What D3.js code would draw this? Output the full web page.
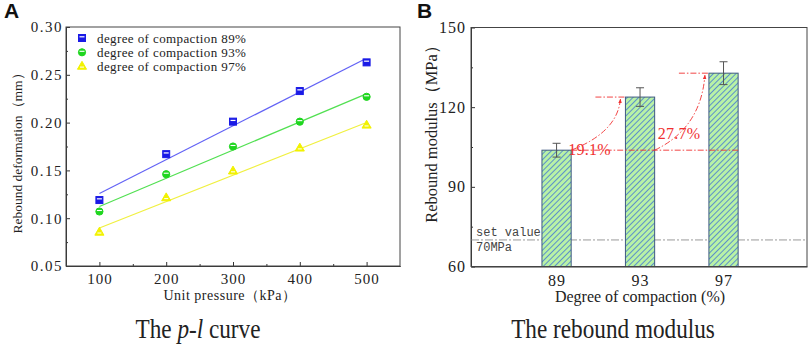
<!DOCTYPE html>
<html lang="en">
<head>
<meta charset="UTF-8">
<title>p-l curve and rebound modulus</title>
<script src="https://cdn.jsdelivr.net/npm/d3@7/dist/d3.min.js"></script>
<style>
    body { margin: 0; background: #fff; }
    svg { display: block; }
    .tick text, .lbl { font-family: 'Liberation Serif', 'Times New Roman', serif; fill: #222; }
    .axis path, .axis line { stroke: #333; }
    .panel { font-family: 'Liberation Sans', Arial, sans-serif; font-weight: bold; font-size: 21px; fill: #111; }
</style>
</head>
<body>
<div id="grafico"></div>
<script>
// --- datos panel A (p-l curve)
var pressures = [100, 200, 300, 400, 500];
var seriesNames = ["degree of compaction 89%", "degree of compaction 93%", "degree of compaction 97%"];
var def89 = [0.119, 0.167, 0.201, 0.233, 0.263];
var def93 = [0.107, 0.146, 0.175, 0.201, 0.227];
var def97 = [0.085, 0.121, 0.149, 0.173, 0.197];
var yTicksA = [0.05, 0.10, 0.15, 0.20, 0.25, 0.30];

// --- datos panel B (rebound modulus)
var compaction = [89, 93, 97];
var modulus = [103.8, 123.8, 132.8];
var modulusErr = [2.6, 3.5, 4.3];
var yTicksB = [60, 90, 120, 150];
var setValue = 70;
var increases = ["19.1%", "27.7%"];

var w = 809, h = 349;
var svg = d3.select("#grafico").append("svg").attr("width", w).attr("height", h);

// pattern rayado para barras
var defs = svg.append("defs");
var pat = defs.append("pattern")
    .attr("id", "rayas")
    .attr("patternUnits", "userSpaceOnUse")
    .attr("width", 4).attr("height", 4)
    .attr("patternTransform", "rotate(45)");
pat.append("rect").attr("width", 4).attr("height", 4).attr("fill", "#b9f2a6");
pat.append("line").attr("x1", 0).attr("y1", 0).attr("x2", 0).attr("y2", 4)
    .attr("stroke", "#3d6fd6").attr("stroke-width", 1.5);

// ================= PANEL A =================
var xA = d3.scaleLinear().domain([50, 550]).range([66, 400]);
var yA = d3.scaleLinear().domain([0.05, 0.30]).range([266, 27]);

var gA = svg.append("g");

// ejes
gA.append("g").attr("class", "axis").attr("transform", "translate(0,266)")
    .call(d3.axisBottom(xA).tickValues(pressures).tickSizeInner(-4).tickSizeOuter(0).tickPadding(7))
    .call(function(g){ g.selectAll("text").attr("font-size", 15).attr("letter-spacing", 1); });
gA.append("g").attr("class", "axis").attr("transform", "translate(0,266)")
    .call(d3.axisBottom(xA).tickValues([150, 250, 350, 450]).tickSizeInner(-2).tickSizeOuter(0).tickFormat(""));
gA.append("g").attr("class", "axis").attr("transform", "translate(66,0)")
    .call(d3.axisLeft(yA).tickValues(yTicksA).tickSizeInner(-4).tickSizeOuter(0).tickPadding(3).tickFormat(d3.format(".2f")))
    .call(function(g){ g.selectAll("text").attr("font-size", 15).attr("letter-spacing", 1.5); });
gA.append("g").attr("class", "axis").attr("transform", "translate(66,0)")
    .call(d3.axisLeft(yA).tickValues([0.075, 0.125, 0.175, 0.225, 0.275]).tickSizeInner(-2).tickSizeOuter(0).tickFormat(""));
// marco
gA.append("rect").attr("x", 66).attr("y", 27).attr("width", 334).attr("height", 239)
    .attr("fill", "none").attr("stroke", "#444").attr("stroke-width", 1);

var seriesA = [
    {name: seriesNames[0], vals: def89, color: "#1a1ae6", line: "#6262f5", shape: "square"},
    {name: seriesNames[1], vals: def93, color: "#1fd61f", line: "#52e052", shape: "circle"},
    {name: seriesNames[2], vals: def97, color: "#f2f200", line: "#f0f040", shape: "triangle"}
];

// ajuste lineal por minimos cuadrados
function ajuste(xs, ys){
    var mx = d3.mean(xs), my = d3.mean(ys);
    var num = d3.sum(xs, function(x, i){ return (x - mx) * (ys[i] - my); });
    var den = d3.sum(xs, function(x){ return (x - mx) * (x - mx); });
    var m = num / den;
    return function(x){ return my + m * (x - mx); };
}

function marcador(g, shape, color, cx, cy){
    if (shape == "square"){
        g.append("rect").attr("x", cx - 3.5).attr("y", cy - 3.5).attr("width", 7).attr("height", 7)
            .attr("fill", color).attr("stroke", color);
        g.append("line").attr("x1", cx - 2.5).attr("x2", cx + 2.5).attr("y1", cy - 1.2).attr("y2", cy - 1.2)
            .attr("stroke", "#fff").attr("stroke-width", 1.2);
    } else if (shape == "circle"){
        g.append("circle").attr("cx", cx).attr("cy", cy).attr("r", 3.6).attr("fill", color).attr("stroke", color);
        g.append("line").attr("x1", cx - 2.5).attr("x2", cx + 2.5).attr("y1", cy - 1).attr("y2", cy - 1)
            .attr("stroke", "#fff").attr("stroke-width", 1.1);
    } else {
        g.append("path").attr("d", d3.symbol().type(d3.symbolTriangle).size(36)())
            .attr("transform", "translate(" + cx + "," + cy + ")")
            .attr("fill", color).attr("stroke", color);
        g.append("line").attr("x1", cx - 2).attr("x2", cx + 2).attr("y1", cy + 0.5).attr("y2", cy + 0.5)
            .attr("stroke", "#fff").attr("stroke-width", 1);
    }
}

seriesA.forEach(function(s){
    var f = ajuste(pressures, s.vals);
    gA.append("line")
        .attr("x1", xA(100)).attr("y1", yA(f(100)))
        .attr("x2", xA(497)).attr("y2", yA(f(497)))
        .attr("stroke", s.line).attr("stroke-width", 1.2);
    s.vals.forEach(function(v, i){
        marcador(gA, s.shape, s.color, xA(pressures[i]), yA(v));
    });
});

// leyenda
seriesA.forEach(function(s, i){
    var ly = 38 + i * 14.3;
    marcador(gA, s.shape, s.color, 82, ly);
    gA.append("text").attr("class", "lbl").attr("x", 97).attr("y", ly + 4.5)
        .attr("font-size", 13).attr("letter-spacing", 0.4).text(s.name);
});

gA.append("text").attr("class", "lbl").attr("x", 230).attr("y", 300)
    .attr("text-anchor", "middle").attr("font-size", 14).attr("letter-spacing", 0.5)
    .text("Unit pressure（kPa）");
gA.append("text").attr("class", "lbl")
    .attr("transform", "translate(22,150) rotate(-90)")
    .attr("text-anchor", "middle").attr("font-size", 13.5)
    .text("Rebound deformation（mm）");
gA.append("text").attr("class", "panel").attr("x", 4).attr("y", 18).text("A");

var capA = gA.append("text").attr("class", "lbl")
    .attr("transform", "translate(198,338) scale(0.86,1)")
    .attr("text-anchor", "middle").attr("font-size", 27);
capA.append("tspan").text("The ");
capA.append("tspan").attr("font-style", "italic").text("p-l");
capA.append("tspan").text(" curve");

// ================= PANEL B =================
var xB = d3.scaleLinear().domain([84.9, 101]).range([471, 807]);
var yB = d3.scaleLinear().domain([60, 150]).range([266.5, 27.5]);
var bw = xB(0.7) - xB(-0.7);

var gB = svg.append("g");

gB.append("g").attr("class", "axis").attr("transform", "translate(0,266.5)")
    .call(d3.axisBottom(xB).tickValues(compaction).tickSizeInner(-4).tickSizeOuter(0).tickPadding(8))
    .call(function(g){ g.selectAll("text").attr("font-size", 16).attr("letter-spacing", 1); });
gB.append("g").attr("class", "axis").attr("transform", "translate(471,0)")
    .call(d3.axisLeft(yB).tickValues(yTicksB).tickSizeInner(-4).tickSizeOuter(0).tickPadding(5))
    .call(function(g){ g.selectAll("text").attr("font-size", 16).attr("letter-spacing", 1); });
gB.append("g").attr("class", "axis").attr("transform", "translate(471,0)")
    .call(d3.axisLeft(yB).tickValues([75, 105, 135]).tickSizeInner(-2).tickSizeOuter(0).tickFormat(""));

// linea valor de referencia
gB.append("line")
    .attr("x1", xB.range()[0]).attr("x2", xB.range()[1])
    .attr("y1", yB(setValue)).attr("y2", yB(setValue))
    .attr("stroke", "#999").attr("stroke-width", 1).attr("stroke-dasharray", "8,2,2,2");
gB.append("text").attr("x", 476).attr("y", yB(setValue) - 4)
    .attr("font-family", "'Liberation Mono', monospace").attr("font-size", 12).attr("fill", "#444")
    .text("set value");
gB.append("text").attr("x", 476).attr("y", yB(setValue) + 11)
    .attr("font-family", "'Liberation Mono', monospace").attr("font-size", 12).attr("fill", "#444")
    .text(setValue + "MPa");

// barras
gB.selectAll("rect.barra")
    .data(compaction)
    .enter()
    .append("rect")
    .attr("class", "barra")
    .attr("x", function(d){ return xB(d) - bw / 2; })
    .attr("y", function(d, i){ return yB(modulus[i]); })
    .attr("width", bw)
    .attr("height", function(d, i){ return yB(60) - yB(modulus[i]); })
    .attr("fill", "url(#rayas)")
    .attr("stroke", "#3f5a80").attr("stroke-width", 1);

// barras de error
compaction.forEach(function(c, i){
    var cx = xB(c), t = yB(modulus[i] + modulusErr[i]), b = yB(modulus[i] - modulusErr[i]);
    gB.append("line").attr("x1", cx).attr("x2", cx).attr("y1", t).attr("y2", b).attr("stroke", "#555");
    gB.append("line").attr("x1", cx - 4).attr("x2", cx + 4).attr("y1", t).attr("y2", t).attr("stroke", "#555");
    gB.append("line").attr("x1", cx - 4).attr("x2", cx + 4).attr("y1", b).attr("y2", b).attr("stroke", "#555");
});

// anotaciones en rojo
var rojo = "#f03030";
defs.append("marker").attr("id", "flecha").attr("viewBox", "0 0 10 10")
    .attr("refX", 9).attr("refY", 5).attr("markerWidth", 5).attr("markerHeight", 5)
    .attr("orient", "auto")
    .append("path").attr("d", "M0,1 L10,5 L0,9 Z").attr("fill", rojo);

var dashDot = "6,2,1.5,2";
gB.append("line")
    .attr("x1", xB(89) + bw / 2).attr("x2", xB(97) + bw / 2)
    .attr("y1", yB(modulus[0])).attr("y2", yB(modulus[0]))
    .attr("stroke", rojo).attr("stroke-width", 0.9).attr("stroke-dasharray", dashDot);
[1, 2].forEach(function(i){
    var xr = xB(compaction[i]) - bw / 2;
    gB.append("line")
        .attr("x1", xr - 30).attr("x2", xr)
        .attr("y1", yB(modulus[i])).attr("y2", yB(modulus[i]))
        .attr("stroke", rojo).attr("stroke-width", 0.9).attr("stroke-dasharray", dashDot);
});

// curvas con flecha
var curva1 = d3.path();
var s1x = xB(89) + bw / 2, s1y = yB(modulus[0]);
var e1x = xB(93) - bw / 2 - 5, e1y = yB(modulus[1]) + 2;
curva1.moveTo(s1x, s1y);
curva1.quadraticCurveTo(e1x - 3, s1y - 18, e1x, e1y);
gB.append("path").attr("d", curva1.toString()).attr("fill", "none")
    .attr("stroke", rojo).attr("stroke-width", 0.9).attr("stroke-dasharray", dashDot)
    .attr("marker-end", "url(#flecha)");

var curva2 = d3.path();
var s2x = xB(93) + bw / 2, s2y = yB(modulus[0]);
var e2x = xB(97) - bw / 2 - 4, e2y = yB(modulus[2]) + 2;
curva2.moveTo(s2x, s2y);
curva2.quadraticCurveTo(e2x - 4, s2y - 22, e2x, e2y);
gB.append("path").attr("d", curva2.toString()).attr("fill", "none")
    .attr("stroke", rojo).attr("stroke-width", 0.9).attr("stroke-dasharray", dashDot)
    .attr("marker-end", "url(#flecha)");

gB.append("text").attr("class", "lbl").attr("x", s1x - 3).attr("y", s1y + 5)
    .attr("font-size", 16).attr("letter-spacing", 0.3).style("fill", rojo).text(increases[0]);
gB.append("text").attr("class", "lbl").attr("x", s2x + 3).attr("y", yB(modulus[0]) - 11)
    .attr("font-size", 16).attr("letter-spacing", 0.3).style("fill", rojo).text(increases[1]);

// marco B
gB.append("rect").attr("x", 471).attr("y", 27.5).attr("width", 336).attr("height", 239)
    .attr("fill", "none").attr("stroke", "#444").attr("stroke-width", 1);

gB.append("text").attr("class", "lbl").attr("x", 640).attr("y", 302)
    .attr("text-anchor", "middle").attr("font-size", 16)
    .text("Degree of compaction (%)");
gB.append("text").attr("class", "lbl")
    .attr("transform", "translate(437,130) rotate(-90)")
    .attr("text-anchor", "middle").attr("font-size", 16.5)
    .text("Rebound modulus（MPa）");
gB.append("text").attr("class", "panel").attr("x", 417).attr("y", 18).text("B");

gB.append("text").attr("class", "lbl")
    .attr("transform", "translate(613,338) scale(0.86,1)")
    .attr("text-anchor", "middle").attr("font-size", 27)
    .text("The rebound modulus");
</script>
</body>
</html>
